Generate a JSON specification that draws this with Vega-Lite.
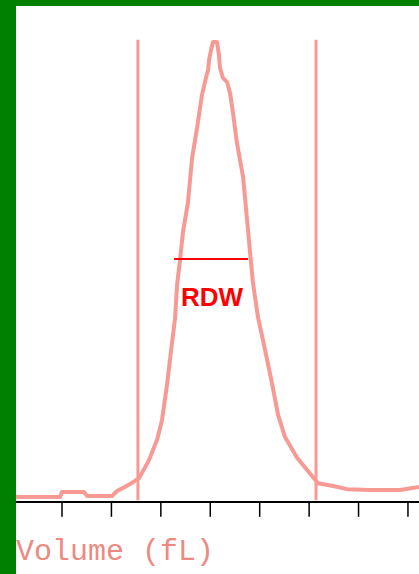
{
  "$schema": "https://vega.github.io/schema/vega-lite/v6.json",
  "width": 403,
  "height": 568,
  "autosize": "none",
  "padding": {"left": 16, "top": 6, "right": 0, "bottom": 0},
  "background": "#008000",
  "config": {"view": {"fill": "white", "stroke": null}},
  "layer": [
    {
      "data": {"values": [{"from": 1.7, "to": 205.6, "level": 0.2}]},
      "mark": {"type": "rule", "color": "black", "strokeWidth": 2},
      "encoding": {
        "x": {"field": "from", "type": "quantitative",
              "scale": {"domain": [1.73, 205.58], "nice": false, "zero": false}, "axis": null},
        "x2": {"field": "to"},
        "y": {"field": "level", "type": "quantitative",
              "scale": {"domain": [-15.4, 107.8], "nice": false, "zero": false}, "axis": null}
      }
    },
    {
      "data": {"values": [
        {"fl": 25, "top": 0.2, "bottom": -3.0}, {"fl": 50, "top": 0.2, "bottom": -3.0},
        {"fl": 75, "top": 0.2, "bottom": -3.0}, {"fl": 100, "top": 0.2, "bottom": -3.0},
        {"fl": 125, "top": 0.2, "bottom": -3.0}, {"fl": 150, "top": 0.2, "bottom": -3.0},
        {"fl": 175, "top": 0.2, "bottom": -3.0}, {"fl": 200, "top": 0.2, "bottom": -3.0}
      ]},
      "mark": {"type": "rule", "color": "black", "strokeWidth": 1.5},
      "encoding": {
        "x": {"field": "fl", "type": "quantitative"},
        "y": {"field": "top", "type": "quantitative"},
        "y2": {"field": "bottom"}
      }
    },
    {
      "data": {"values": [
        {"fl": 63.4, "top": 100.5, "bottom": 0.6},
        {"fl": 153.5, "top": 100.5, "bottom": 0.6}
      ]},
      "mark": {"type": "rule", "color": "#f79a94", "strokeWidth": 3},
      "encoding": {
        "x": {"field": "fl", "type": "quantitative"},
        "y": {"field": "top", "type": "quantitative"},
        "y2": {"field": "bottom"}
      }
    },
    {
      "data": {"values": [
        {"i": 1, "fl": 1.7, "count": 1.3},
        {"i": 2, "fl": 24.0, "count": 1.3},
        {"i": 3, "fl": 25.0, "count": 2.4},
        {"i": 4, "fl": 36.1, "count": 2.4},
        {"i": 5, "fl": 37.7, "count": 1.5},
        {"i": 6, "fl": 50.3, "count": 1.5},
        {"i": 7, "fl": 52.8, "count": 2.6},
        {"i": 8, "fl": 56.9, "count": 3.5},
        {"i": 9, "fl": 59.4, "count": 4.1},
        {"i": 10, "fl": 64.0, "count": 5.4},
        {"i": 11, "fl": 69.0, "count": 9.3},
        {"i": 12, "fl": 73.1, "count": 13.7},
        {"i": 13, "fl": 75.6, "count": 18.0},
        {"i": 14, "fl": 78.1, "count": 25.6},
        {"i": 15, "fl": 80.1, "count": 32.8},
        {"i": 16, "fl": 82.2, "count": 40.1},
        {"i": 17, "fl": 83.2, "count": 47.3},
        {"i": 18, "fl": 84.7, "count": 52.7},
        {"i": 19, "fl": 86.2, "count": 58.8},
        {"i": 20, "fl": 88.7, "count": 65.1},
        {"i": 21, "fl": 90.8, "count": 74.8},
        {"i": 22, "fl": 93.3, "count": 81.3},
        {"i": 23, "fl": 95.8, "count": 88.5},
        {"i": 24, "fl": 97.8, "count": 92.2},
        {"i": 25, "fl": 98.9, "count": 93.9},
        {"i": 26, "fl": 99.4, "count": 96.1},
        {"i": 27, "fl": 100.4, "count": 98.3},
        {"i": 28, "fl": 101.4, "count": 100.0},
        {"i": 29, "fl": 103.4, "count": 100.0},
        {"i": 30, "fl": 104.4, "count": 97.2},
        {"i": 31, "fl": 104.9, "count": 94.4},
        {"i": 32, "fl": 106.4, "count": 92.2},
        {"i": 33, "fl": 108.5, "count": 91.3},
        {"i": 34, "fl": 110.0, "count": 88.9},
        {"i": 35, "fl": 111.5, "count": 84.6},
        {"i": 36, "fl": 113.5, "count": 78.1},
        {"i": 37, "fl": 116.6, "count": 70.7},
        {"i": 38, "fl": 119.1, "count": 59.2},
        {"i": 39, "fl": 120.1, "count": 54.5},
        {"i": 40, "fl": 121.6, "count": 47.7},
        {"i": 41, "fl": 124.1, "count": 40.4},
        {"i": 42, "fl": 127.7, "count": 33.2},
        {"i": 43, "fl": 131.2, "count": 26.0},
        {"i": 44, "fl": 134.3, "count": 19.1},
        {"i": 45, "fl": 137.8, "count": 14.3},
        {"i": 46, "fl": 143.9, "count": 9.8},
        {"i": 47, "fl": 148.9, "count": 7.2},
        {"i": 48, "fl": 152.0, "count": 5.6},
        {"i": 49, "fl": 154.5, "count": 4.3},
        {"i": 50, "fl": 162.1, "count": 3.7},
        {"i": 51, "fl": 169.2, "count": 3.0},
        {"i": 52, "fl": 180.8, "count": 2.8},
        {"i": 53, "fl": 196.0, "count": 2.8},
        {"i": 54, "fl": 205.6, "count": 3.5}
      ]},
      "mark": {"type": "line", "color": "#f79a94", "strokeWidth": 4, "strokeJoin": "round"},
      "encoding": {
        "x": {"field": "fl", "type": "quantitative"},
        "y": {"field": "count", "type": "quantitative"},
        "order": {"field": "i", "type": "quantitative"}
      }
    },
    {
      "data": {"values": [{"from": 81.7, "to": 119.1, "level": 52.9}]},
      "mark": {"type": "rule", "color": "#ff0000", "strokeWidth": 2},
      "encoding": {
        "x": {"field": "from", "type": "quantitative"},
        "x2": {"field": "to"},
        "y": {"field": "level", "type": "quantitative"}
      }
    },
    {
      "data": {"values": [{"fl": 100.9, "count": 42.7, "label": "RDW"}]},
      "mark": {"type": "text", "color": "#ff0000", "font": "Liberation Sans", "fontWeight": "bold",
               "fontSize": 26, "align": "center", "baseline": "alphabetic"},
      "encoding": {
        "x": {"field": "fl", "type": "quantitative"},
        "y": {"field": "count", "type": "quantitative"},
        "text": {"field": "label"}
      }
    },
    {
      "data": {"values": [{"fl": 1.73, "count": -12.4, "label": "Volume (fL)"}]},
      "mark": {"type": "text", "color": "#ec8a82", "font": "Liberation Mono",
               "fontSize": 30, "align": "left", "baseline": "alphabetic"},
      "encoding": {
        "x": {"field": "fl", "type": "quantitative"},
        "y": {"field": "count", "type": "quantitative"},
        "text": {"field": "label"}
      }
    }
  ]
}
